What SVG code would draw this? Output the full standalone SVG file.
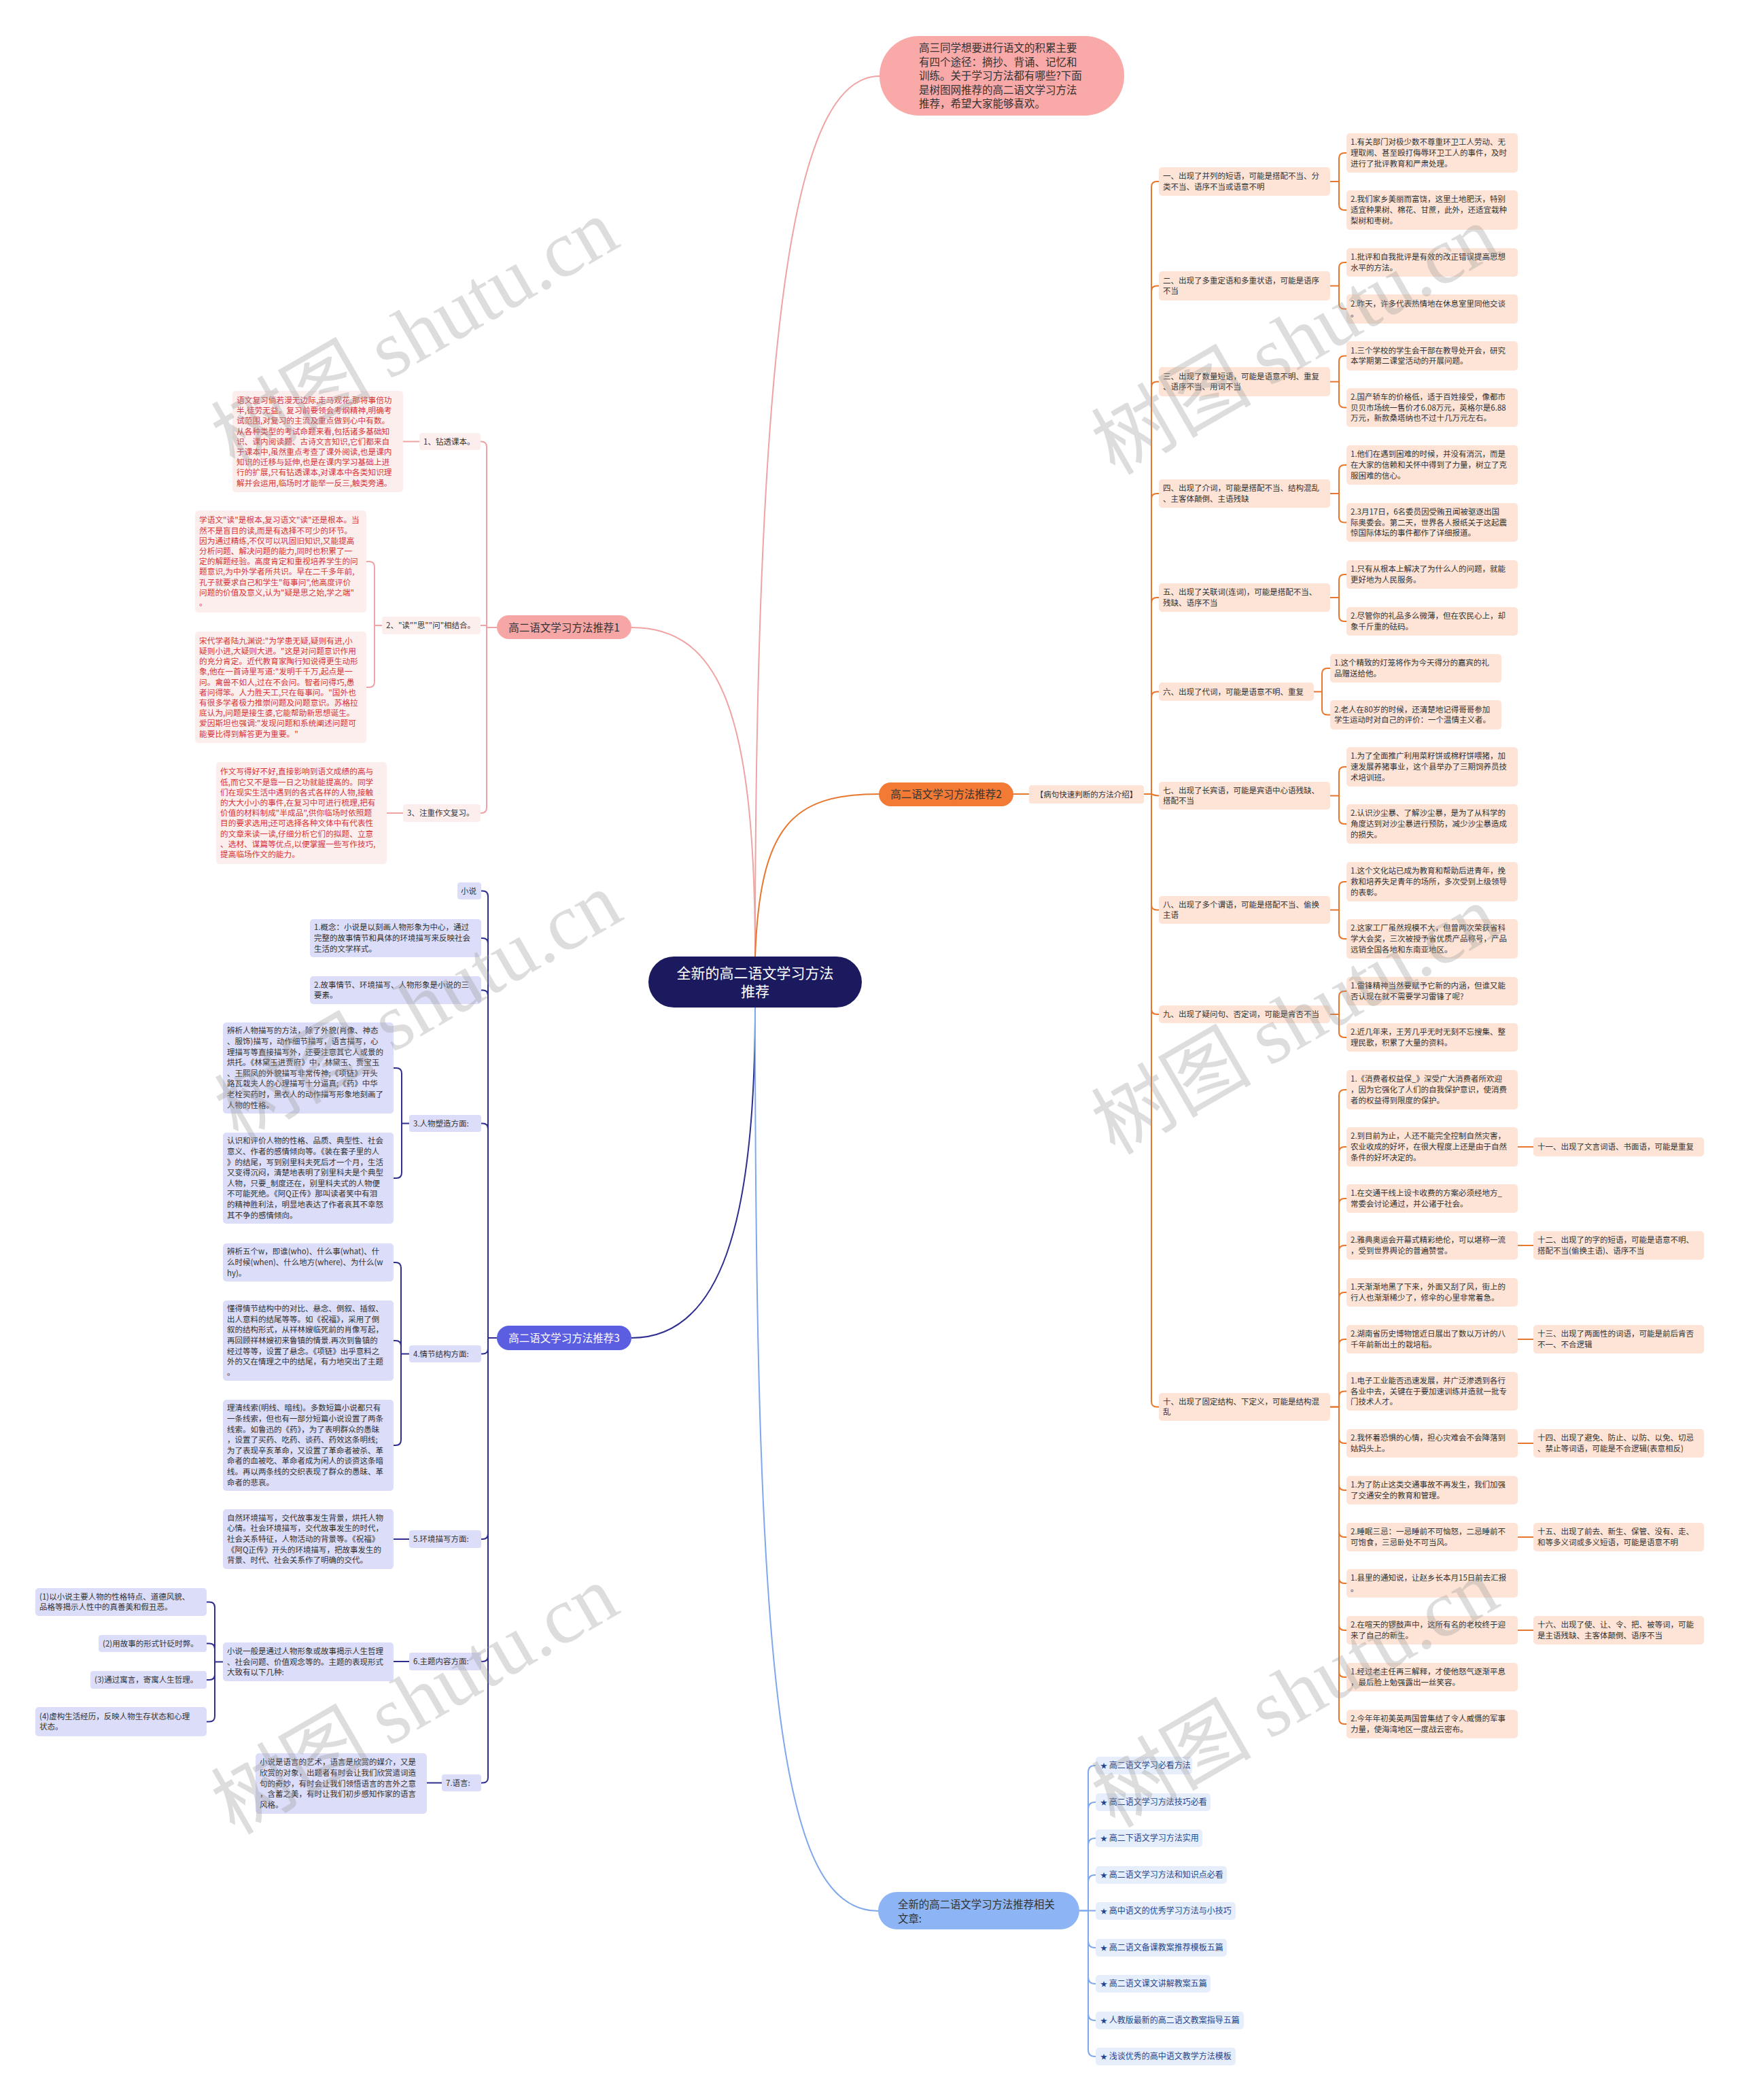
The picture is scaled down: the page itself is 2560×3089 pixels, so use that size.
<svg xmlns="http://www.w3.org/2000/svg" width="2560" height="3089" viewBox="0 0 2560 3089">
<style>
.t{font-family:"Noto Sans CJK SC","Noto Sans",sans-serif;font-size:11.5px;fill:#333}
.r{font-size:11.7px;fill:#D7353A}
.pk{fill:#FDE4D6}
.lf1{fill:#FDEEEE}
.b3{fill:#DCDDF8}
.b4{fill:#E7EEFB}
.st{font-family:"Noto Sans CJK SC","DejaVu Sans",sans-serif;font-size:12px;fill:#25458E}
.c1{fill:none;stroke:#F0A3A3;stroke-width:2}
.c2{fill:none;stroke:#E8762C;stroke-width:2}
.c3{fill:none;stroke:#2F2E8E;stroke-width:2}
.c4{fill:none;stroke:#7FA8EC;stroke-width:2}
.wm{font-size:118px;fill:#999;opacity:0.33}
</style>
<rect x="0" y="0" width="2560" height="3089" fill="#fff"/>
<g id="connectors">
<path class="c1" d="M1111,1407 C1111,400 1180,112 1294,112"/>
<path class="c1" d="M929,923 C1060,923 1111,1050 1111,1407"/>
<path class="c2" d="M1111,1407 C1118,1215 1165,1168 1293,1168"/>
<path class="c3" d="M1111,1482 C1111,1800 1060,1968 929,1968"/>
<path class="c4" d="M1111,1482 C1111,2500 1150,2811 1292,2811"/>
<path class="c2" d="M1491,1168 H1514"/>
<path class="c2" d="M1683,1168 H1694 V275 Q1694,267 1702,267 H1705"/>
<path class="c2" d="M1683,1168 H1694 V428.5 Q1694,420.5 1702,420.5 H1705"/>
<path class="c2" d="M1683,1168 H1694 V569.5 Q1694,561.5 1702,561.5 H1705"/>
<path class="c2" d="M1683,1168 H1694 V734 Q1694,726 1702,726 H1705"/>
<path class="c2" d="M1683,1168 H1694 V887 Q1694,879 1702,879 H1705"/>
<path class="c2" d="M1683,1168 H1694 V1025.5 Q1694,1017.5 1702,1017.5 H1705"/>
<path class="c2" d="M1683,1168 H1694 Q1699,1170.5 1705,1170.5"/>
<path class="c2" d="M1683,1168 H1694 V1330.5 Q1694,1338.5 1702,1338.5 H1705"/>
<path class="c2" d="M1683,1168 H1694 V1484 Q1694,1492 1702,1492 H1705"/>
<path class="c2" d="M1683,1168 H1694 V2061.5 Q1694,2069.5 1702,2069.5 H1705"/>
<path class="c2" d="M1957,267 H1970 V233 Q1970,225 1978,225 H1981 M1957,267 H1970 V301 Q1970,309 1978,309 H1981"/>
<path class="c2" d="M1957,420.5 H1970 V394 Q1970,386 1978,386 H1981 M1957,420.5 H1970 V446.5 Q1970,454.5 1978,454.5 H1981"/>
<path class="c2" d="M1957,561.5 H1970 V531.5 Q1970,523.5 1978,523.5 H1981 M1957,561.5 H1970 V591.5 Q1970,599.5 1978,599.5 H1981"/>
<path class="c2" d="M1957,726 H1970 V692 Q1970,684 1978,684 H1981 M1957,726 H1970 V760.5 Q1970,768.5 1978,768.5 H1981"/>
<path class="c2" d="M1957,879 H1970 V853 Q1970,845 1978,845 H1981 M1957,879 H1970 V906 Q1970,914 1978,914 H1981"/>
<path class="c2" d="M1933,1017.5 H1945 V991 Q1945,983 1953,983 H1957 M1933,1017.5 H1945 V1043.5 Q1945,1051.5 1953,1051.5 H1957"/>
<path class="c2" d="M1957,1170.5 H1970 V1136 Q1970,1128 1978,1128 H1981 M1957,1170.5 H1970 V1204 Q1970,1212 1978,1212 H1981"/>
<path class="c2" d="M1957,1338.5 H1970 V1305 Q1970,1297 1978,1297 H1981 M1957,1338.5 H1970 V1373 Q1970,1381 1978,1381 H1981"/>
<path class="c2" d="M1957,1492 H1970 V1466 Q1970,1458 1978,1458 H1981 M1957,1492 H1970 V1518 Q1970,1526 1978,1526 H1981"/>
<path class="c2" d="M1957,2069.5 H1970 V1611 Q1970,1603 1978,1603 H1981 M1957,2069.5 H1970 V1695 Q1970,1687 1978,1687 H1981 M1957,2069.5 H1970 V1771 Q1970,1763 1978,1763 H1981 M1957,2069.5 H1970 V1840 Q1970,1832 1978,1832 H1981 M1957,2069.5 H1970 V1909 Q1970,1901 1978,1901 H1981 M1957,2069.5 H1970 V1978 Q1970,1970 1978,1970 H1981 M1957,2069.5 H1970 V2054.5 Q1970,2046.5 1978,2046.5 H1981"/>
<path class="c2" d="M1957,2069.5 H1970 V2115 Q1970,2123 1978,2123 H1981 M1957,2069.5 H1970 V2184 Q1970,2192 1978,2192 H1981 M1957,2069.5 H1970 V2253 Q1970,2261 1978,2261 H1981 M1957,2069.5 H1970 V2321 Q1970,2329 1978,2329 H1981 M1957,2069.5 H1970 V2390 Q1970,2398 1978,2398 H1981 M1957,2069.5 H1970 V2459 Q1970,2467 1978,2467 H1981 M1957,2069.5 H1970 V2528 Q1970,2536 1978,2536 H1981"/>
<path class="c2" d="M2233,1687 H2256 M2233,1832 H2256 M2233,1970 H2256 M2233,2123 H2256 M2233,2261 H2256 M2233,2398 H2256"/>
<path class="c1" d="M731,923 H716 V657.5 Q716,649.5 708,649.5 H707"/>
<path class="c1" d="M731,923 H716 V920 H707"/>
<path class="c1" d="M731,923 H716 V1188 Q716,1196 708,1196 H707"/>
<path class="c1" d="M617,649.5 H593"/>
<path class="c1" d="M562,920 H551 V834 Q551,826 543,826 H539 M562,920 H551 V1003 Q551,1011 543,1011 H539"/>
<path class="c1" d="M593,1196 H569"/>
<path class="c3" d="M731,1968 H718 V1318.5 Q718,1310.5 710,1310.5 H708"/>
<path class="c3" d="M731,1968 H718 V1388 Q718,1380 710,1380 H708"/>
<path class="c3" d="M731,1968 H718 V1464.5 Q718,1456.5 710,1456.5 H708"/>
<path class="c3" d="M731,1968 H718 V1660.5 Q718,1652.5 710,1652.5 H708"/>
<path class="c3" d="M731,1968 H718 V1983.5 Q718,1991.5 710,1991.5 H708"/>
<path class="c3" d="M731,1968 H718 V2256 Q718,2264 710,2264 H708"/>
<path class="c3" d="M731,1968 H718 V2436 Q718,2444 710,2444 H708"/>
<path class="c3" d="M731,1968 H718 V2614.5 Q718,2622.5 710,2622.5 H708"/>
<path class="c3" d="M602,1652.5 H591 V1579 Q591,1571 583,1571 H579 M602,1652.5 H591 V1725 Q591,1733 583,1733 H579"/>
<path class="c3" d="M602,1991.5 H590 V1865 Q590,1857 582,1857 H579 M602,1991.5 H590 V1980 Q590,1972 582,1972 H579 M602,1991.5 H590 V2118 Q590,2126 582,2126 H579"/>
<path class="c3" d="M602,2264 H579 M602,2444 H579 M650,2622.5 H628"/>
<path class="c3" d="M328,2444.5 H316 V2364.5 Q316,2356.5 308,2356.5 H304 M328,2444.5 H316 V2425.5 Q316,2417.5 308,2417.5 H304 M328,2444.5 H316 V2463 Q316,2471 308,2471 H304 M328,2444.5 H316 V2524.5 Q316,2532.5 308,2532.5 H304"/>
<path class="c4" d="M1588,2810.5 H1601 V2607 Q1601,2597 1611,2597 H1612 M1588,2810.5 H1601 V2661 Q1601,2651 1611,2651 H1612 M1588,2810.5 H1601 V2714 Q1601,2704 1611,2704 H1612 M1588,2810.5 H1601 V2768 Q1601,2758 1611,2758 H1612 M1588,2810.5 H1612"/>
<path class="c4" d="M1588,2810.5 H1601 V2855 Q1601,2865 1611,2865 H1612 M1588,2810.5 H1601 V2908 Q1601,2918 1611,2918 H1612 M1588,2810.5 H1601 V2962 Q1601,2972 1611,2972 H1612 M1588,2810.5 H1601 V3015 Q1601,3025 1611,3025 H1612"/>
</g>

<g id="root"><rect x="954" y="1407" width="314" height="75" rx="37.5" fill="#1B1A5E"/><text class="t" x="1111" y="1438.5" text-anchor="middle" style="font-size:21px;fill:#fff"><tspan x="1111">全新的高二语文学习方法</tspan><tspan x="1111" dy="27">推荐</tspan></text></g>

<g id="intro"><rect x="1294" y="53" width="360" height="117" rx="58" fill="#F9A9A8"/><text class="t" x="1352" y="76" style="font-size:15.5px"><tspan x="1352">高三同学想要进行语文的积累主要</tspan><tspan x="1352" dy="20.5">有四个途径：摘抄、背诵、记忆和</tspan><tspan x="1352" dy="20.5">训练。关于学习方法都有哪些?下面</tspan><tspan x="1352" dy="20.5">是树图网推荐的高二语文学习方法</tspan><tspan x="1352" dy="20.5">推荐，希望大家能够喜欢。</tspan></text></g>

<g id="b1"><rect x="731" y="905" width="198" height="35" rx="17.5" fill="#F7A6A6"/><text class="t" x="830" y="928.5" text-anchor="middle" style="font-size:15.5px">高二语文学习方法推荐1</text></g>
<g id="b1-s1"><rect class="lf1" x="617" y="637" width="90" height="25" rx="4"/><text class="t" x="623" y="653.5">1、钻透课本。</text></g>
<g id="b1-s2"><rect class="lf1" x="562" y="907" width="145" height="26" rx="4"/><text class="t" x="568" y="924">2、"读""思""问"相结合。</text></g>
<g id="b1-s3"><rect class="lf1" x="593" y="1183" width="114" height="26" rx="4"/><text class="t" x="599" y="1200">3、注重作文复习。</text></g>
<g id="b1-la"><rect class="lf1" x="342" y="575" width="251" height="149" rx="5"/><text class="t r" x="348" y="592.9"><tspan x="348">语文复习倘若漫无边际,走马观花,那将事倍功</tspan><tspan x="348" dy="15.2">半,徒劳无益。复习前要领会考纲精神,明确考</tspan><tspan x="348" dy="15.2">试范围,对复习的主流及重点做到心中有数。</tspan><tspan x="348" dy="15.2">从各种类型的考试命题来看,包括诸多基础知</tspan><tspan x="348" dy="15.2">识、课内阅读题、古诗文言知识,它们都来自</tspan><tspan x="348" dy="15.2">于课本中,虽然重点考查了课外阅读,也是课内</tspan><tspan x="348" dy="15.2">知识的迁移与延伸,也是在课内学习基础上进</tspan><tspan x="348" dy="15.2">行的扩展,只有钻透课本,对课本中各类知识理</tspan><tspan x="348" dy="15.2">解并会运用,临场时才能举一反三,触类旁通。</tspan></text></g>
<g id="b1-lb"><rect class="lf1" x="287" y="751" width="252" height="150" rx="5"/><text class="t r" x="293" y="769.4"><tspan x="293">学语文"读"是根本,复习语文"读"还是根本。当</tspan><tspan x="293" dy="15.2">然不是盲目的读,而是有选择不可少的环节。</tspan><tspan x="293" dy="15.2">因为通过精练,不仅可以巩固旧知识,又能提高</tspan><tspan x="293" dy="15.2">分析问题、解决问题的能力,同时也积累了一</tspan><tspan x="293" dy="15.2">定的解题经验。高度肯定和重视培养学生的问</tspan><tspan x="293" dy="15.2">题意识,为中外学者所共识。早在二千多年前,</tspan><tspan x="293" dy="15.2">孔子就要求自己和学生"每事问",他高度评价</tspan><tspan x="293" dy="15.2">问题的价值及意义,认为"疑是思之始,学之端"</tspan><tspan x="293" dy="15.2">。</tspan></text></g>
<g id="b1-lc"><rect class="lf1" x="287" y="929" width="252" height="164" rx="5"/><text class="t r" x="293" y="946.8"><tspan x="293">宋代学者陆九渊说:"为学患无疑,疑则有进,小</tspan><tspan x="293" dy="15.2">疑则小进,大疑则大进。"这是对问题意识作用</tspan><tspan x="293" dy="15.2">的充分肯定。近代教育家陶行知说得更生动形</tspan><tspan x="293" dy="15.2">象,他在一首诗里写道:"发明千千万,起点是一</tspan><tspan x="293" dy="15.2">问。禽兽不如人,过在不会问。智者问得巧,愚</tspan><tspan x="293" dy="15.2">者问得笨。人力胜天工,只在每事问。"国外也</tspan><tspan x="293" dy="15.2">有很多学者极力推崇问题及问题意识。苏格拉</tspan><tspan x="293" dy="15.2">底认为,问题是接生婆,它能帮助新思想诞生。</tspan><tspan x="293" dy="15.2">爱因斯坦也强调:"发现问题和系统阐述问题可</tspan><tspan x="293" dy="15.2">能要比得到解答更为重要。"</tspan></text></g>
<g id="b1-ld"><rect class="lf1" x="318" y="1121" width="251" height="150" rx="5"/><text class="t r" x="324" y="1139.4"><tspan x="324">作文写得好不好,直接影响到语文成绩的高与</tspan><tspan x="324" dy="15.2">低,而它又不是靠一日之功就能提高的。同学</tspan><tspan x="324" dy="15.2">们在现实生活中遇到的各式各样的人物,接触</tspan><tspan x="324" dy="15.2">的大大小小的事件,在复习中可进行梳理,把有</tspan><tspan x="324" dy="15.2">价值的材料制成"半成品",供你临场时依照题</tspan><tspan x="324" dy="15.2">目的要求选用;还可选择各种文体中有代表性</tspan><tspan x="324" dy="15.2">的文章来读一读,仔细分析它们的拟题、立意</tspan><tspan x="324" dy="15.2">、选材、谋篇等优点,以便掌握一些写作技巧,</tspan><tspan x="324" dy="15.2">提高临场作文的能力。</tspan></text></g>

<g id="b2"><rect x="1293" y="1151" width="198" height="35" rx="17.5" fill="#F27A35"/><text class="t" x="1392" y="1174" text-anchor="middle" style="font-size:15.5px">高二语文学习方法推荐2</text></g>
<g id="b2-intro"><rect class="pk" x="1514" y="1155" width="169" height="27" rx="4"/><text class="t" x="1598.5" y="1172.5" text-anchor="middle">【病句快速判断的方法介绍】</text></g>

<g id="r1"><rect class="pk" x="1705" y="246" width="252" height="42" rx="5"/><text class="t" x="1711" y="263.2"><tspan x="1711">一、出现了并列的短语，可能是搭配不当、分</tspan><tspan x="1711" dy="15.6">类不当、语序不当或语意不明</tspan></text></g>
<g id="r2"><rect class="pk" x="1705" y="399" width="252" height="43" rx="5"/><text class="t" x="1711" y="416.7"><tspan x="1711">二、出现了多重定语和多重状语，可能是语序</tspan><tspan x="1711" dy="15.6">不当</tspan></text></g>
<g id="r3"><rect class="pk" x="1705" y="540" width="252" height="43" rx="5"/><text class="t" x="1711" y="557.7"><tspan x="1711">三、出现了数量短语，可能是语意不明、重复</tspan><tspan x="1711" dy="15.6">、语序不当、用词不当</tspan></text></g>
<g id="r4"><rect class="pk" x="1705" y="705" width="252" height="42" rx="5"/><text class="t" x="1711" y="722.2"><tspan x="1711">四、出现了介词，可能是搭配不当、结构混乱</tspan><tspan x="1711" dy="15.6">、主客体颠倒、主语残缺</tspan></text></g>
<g id="r5"><rect class="pk" x="1705" y="858" width="252" height="42" rx="5"/><text class="t" x="1711" y="875.2"><tspan x="1711">五、出现了关联词(连词)，可能是搭配不当、</tspan><tspan x="1711" dy="15.6">残缺、语序不当</tspan></text></g>
<g id="r6"><rect class="pk" x="1705" y="1004" width="228" height="27" rx="5"/><text class="t" x="1711" y="1021.5">六、出现了代词，可能是语意不明、重复</text></g>
<g id="r7"><rect class="pk" x="1705" y="1150" width="252" height="41" rx="5"/><text class="t" x="1711" y="1166.7"><tspan x="1711">七、出现了长宾语，可能是宾语中心语残缺、</tspan><tspan x="1711" dy="15.6">搭配不当</tspan></text></g>
<g id="r8"><rect class="pk" x="1705" y="1318" width="252" height="41" rx="5"/><text class="t" x="1711" y="1334.7"><tspan x="1711">八、出现了多个谓语，可能是搭配不当、偷换</tspan><tspan x="1711" dy="15.6">主语</tspan></text></g>
<g id="r9"><rect class="pk" x="1705" y="1479" width="252" height="26" rx="5"/><text class="t" x="1711" y="1496">九、出现了疑问句、否定词，可能是肯否不当</text></g>
<g id="r10"><rect class="pk" x="1705" y="2049" width="252" height="41" rx="5"/><text class="t" x="1711" y="2065.7"><tspan x="1711">十、出现了固定结构、下定义，可能是结构混</tspan><tspan x="1711" dy="15.6">乱</tspan></text></g>

<g id="r1a"><rect class="pk" x="1981" y="196" width="252" height="58" rx="5"/><text class="t" x="1987" y="213.4"><tspan x="1987">1.有关部门对极少数不尊重环卫工人劳动、无</tspan><tspan x="1987" dy="15.6">理取闹、甚至殴打侮辱环卫工人的事件，及时</tspan><tspan x="1987" dy="15.6">进行了批评教育和严肃处理。</tspan></text></g>
<g id="r1b"><rect class="pk" x="1981" y="280" width="252" height="58" rx="5"/><text class="t" x="1987" y="297.4"><tspan x="1987">2.我们家乡美丽而富饶，这里土地肥沃，特别</tspan><tspan x="1987" dy="15.6">适宜种果树、棉花、甘蔗，此外，还适宜栽种</tspan><tspan x="1987" dy="15.6">梨树和枣树。</tspan></text></g>
<g id="r2a"><rect class="pk" x="1981" y="365" width="252" height="42" rx="5"/><text class="t" x="1987" y="382.2"><tspan x="1987">1.批评和自我批评是有效的改正错误提高思想</tspan><tspan x="1987" dy="15.6">水平的方法。</tspan></text></g>
<g id="r2b"><rect class="pk" x="1981" y="433" width="252" height="43" rx="5"/><text class="t" x="1987" y="450.7"><tspan x="1987">2.昨天，许多代表热情地在休息室里同他交谈</tspan><tspan x="1987" dy="15.6">。</tspan></text></g>
<g id="r3a"><rect class="pk" x="1981" y="502" width="252" height="43" rx="5"/><text class="t" x="1987" y="519.7"><tspan x="1987">1.三个学校的学生会干部在教导处开会，研究</tspan><tspan x="1987" dy="15.6">本学期第二课堂活动的开展问题。</tspan></text></g>
<g id="r3b"><rect class="pk" x="1981" y="571" width="252" height="57" rx="5"/><text class="t" x="1987" y="587.9"><tspan x="1987">2.国产轿车的价格低，适于百姓接受，像都市</tspan><tspan x="1987" dy="15.6">贝贝市场统一售价才6.08万元，英格尔是6.88</tspan><tspan x="1987" dy="15.6">万元，新款桑塔纳也不过十几万元左右。</tspan></text></g>
<g id="r4a"><rect class="pk" x="1981" y="655" width="252" height="58" rx="5"/><text class="t" x="1987" y="672.4"><tspan x="1987">1.他们在遇到困难的时候，并没有消沉，而是</tspan><tspan x="1987" dy="15.6">在大家的信赖和关怀中得到了力量，树立了克</tspan><tspan x="1987" dy="15.6">服困难的信心。</tspan></text></g>
<g id="r4b"><rect class="pk" x="1981" y="740" width="252" height="57" rx="5"/><text class="t" x="1987" y="756.9"><tspan x="1987">2.3月17日，6名委员因受贿丑闻被驱逐出国</tspan><tspan x="1987" dy="15.6">际奥委会。第二天，世界各人报纸关于这起震</tspan><tspan x="1987" dy="15.6">惊国际体坛的事件都作了详细报道。</tspan></text></g>
<g id="r5a"><rect class="pk" x="1981" y="824" width="252" height="42" rx="5"/><text class="t" x="1987" y="841.2"><tspan x="1987">1.只有从根本上解决了为什么人的问题，就能</tspan><tspan x="1987" dy="15.6">更好地为人民服务。</tspan></text></g>
<g id="r5b"><rect class="pk" x="1981" y="893" width="252" height="42" rx="5"/><text class="t" x="1987" y="910.2"><tspan x="1987">2.尽管你的礼品多么微薄，但在农民心上，却</tspan><tspan x="1987" dy="15.6">象千斤重的砝码。</tspan></text></g>
<g id="r6a"><rect class="pk" x="1957" y="962" width="252" height="42" rx="5"/><text class="t" x="1963" y="979.2"><tspan x="1963">1.这个精致的灯笼将作为今天得分的嘉宾的礼</tspan><tspan x="1963" dy="15.6">品赠送给他。</tspan></text></g>
<g id="r6b"><rect class="pk" x="1957" y="1030" width="252" height="43" rx="5"/><text class="t" x="1963" y="1047.7"><tspan x="1963">2.老人在80岁的时候，还清楚地记得哥哥参加</tspan><tspan x="1963" dy="15.6">学生运动时对自己的评价：一个温情主义者。</tspan></text></g>
<g id="r7a"><rect class="pk" x="1981" y="1099" width="252" height="58" rx="5"/><text class="t" x="1987" y="1116.4"><tspan x="1987">1.为了全面推广利用菜籽饼或棉籽饼喂猪，加</tspan><tspan x="1987" dy="15.6">速发展养猪事业，这个县举办了三期饲养员技</tspan><tspan x="1987" dy="15.6">术培训班。</tspan></text></g>
<g id="r7b"><rect class="pk" x="1981" y="1183" width="252" height="58" rx="5"/><text class="t" x="1987" y="1200.4"><tspan x="1987">2.认识沙尘暴、了解沙尘暴，是为了从科学的</tspan><tspan x="1987" dy="15.6">角度达到对沙尘暴进行预防，减少沙尘暴造成</tspan><tspan x="1987" dy="15.6">的损失。</tspan></text></g>
<g id="r8a"><rect class="pk" x="1981" y="1268" width="252" height="58" rx="5"/><text class="t" x="1987" y="1285.4"><tspan x="1987">1.这个文化站已成为教育和帮助后进青年，挽</tspan><tspan x="1987" dy="15.6">救和培养失足青年的场所，多次受到上级领导</tspan><tspan x="1987" dy="15.6">的表彰。</tspan></text></g>
<g id="r8b"><rect class="pk" x="1981" y="1352" width="252" height="58" rx="5"/><text class="t" x="1987" y="1369.4"><tspan x="1987">2.这家工厂虽然规模不大，但曾两次荣获省科</tspan><tspan x="1987" dy="15.6">学大会奖，三次被授予省优质产品称号，产品</tspan><tspan x="1987" dy="15.6">远销全国各地和东南亚地区。</tspan></text></g>
<g id="r9a"><rect class="pk" x="1981" y="1437" width="252" height="42" rx="5"/><text class="t" x="1987" y="1454.2"><tspan x="1987">1.雷锋精神当然要赋予它新的内涵，但谁又能</tspan><tspan x="1987" dy="15.6">否认现在就不需要学习雷锋了呢?</tspan></text></g>
<g id="r9b"><rect class="pk" x="1981" y="1505" width="252" height="42" rx="5"/><text class="t" x="1987" y="1522.2"><tspan x="1987">2.近几年来，王芳几乎无时无刻不忘搜集、整</tspan><tspan x="1987" dy="15.6">理民歌，积累了大量的资料。</tspan></text></g>

<g id="r10a"><rect class="pk" x="1981" y="1574" width="252" height="58" rx="5"/><text class="t" x="1987" y="1591.4"><tspan x="1987">1.《消费者权益保_》深受广大消费者所欢迎</tspan><tspan x="1987" dy="15.6">，因为它强化了人们的自我保护意识，使消费</tspan><tspan x="1987" dy="15.6">者的权益得到限度的保护。</tspan></text></g>
<g id="r10b"><rect class="pk" x="1981" y="1658" width="252" height="58" rx="5"/><text class="t" x="1987" y="1675.4"><tspan x="1987">2.到目前为止，人还不能完全控制自然灾害，</tspan><tspan x="1987" dy="15.6">农业收成的好坏，在很大程度上还是由于自然</tspan><tspan x="1987" dy="15.6">条件的好坏决定的。</tspan></text></g>
<g id="r10c"><rect class="pk" x="1981" y="1742" width="252" height="42" rx="5"/><text class="t" x="1987" y="1759.2"><tspan x="1987">1.在交通干线上设卡收费的方案必须经地方_</tspan><tspan x="1987" dy="15.6">常委会讨论通过，并公诸于社会。</tspan></text></g>
<g id="r10d"><rect class="pk" x="1981" y="1811" width="252" height="42" rx="5"/><text class="t" x="1987" y="1828.2"><tspan x="1987">2.雅典奥运会开幕式精彩绝伦，可以堪称一流</tspan><tspan x="1987" dy="15.6">，受到世界舆论的普遍赞誉。</tspan></text></g>
<g id="r10e"><rect class="pk" x="1981" y="1880" width="252" height="42" rx="5"/><text class="t" x="1987" y="1897.2"><tspan x="1987">1.天渐渐地黑了下来，外面又刮了风，街上的</tspan><tspan x="1987" dy="15.6">行人也渐渐稀少了，修伞的心里非常着急。</tspan></text></g>
<g id="r10f"><rect class="pk" x="1981" y="1949" width="252" height="42" rx="5"/><text class="t" x="1987" y="1966.2"><tspan x="1987">2.湖南省历史博物馆近日展出了数以万计的八</tspan><tspan x="1987" dy="15.6">千年前新出土的栽培稻。</tspan></text></g>
<g id="r10g"><rect class="pk" x="1981" y="2018" width="252" height="57" rx="5"/><text class="t" x="1987" y="2034.9"><tspan x="1987">1.电子工业能否迅速发展，并广泛渗透到各行</tspan><tspan x="1987" dy="15.6">各业中去，关键在于要加速训练并造就一批专</tspan><tspan x="1987" dy="15.6">门技术人才。</tspan></text></g>
<g id="r10h"><rect class="pk" x="1981" y="2102" width="252" height="42" rx="5"/><text class="t" x="1987" y="2119.2"><tspan x="1987">2.我怀着恐惧的心情，担心灾难会不会降落到</tspan><tspan x="1987" dy="15.6">姑妈头上。</tspan></text></g>
<g id="r10i"><rect class="pk" x="1981" y="2171" width="252" height="42" rx="5"/><text class="t" x="1987" y="2188.2"><tspan x="1987">1.为了防止这类交通事故不再发生，我们加强</tspan><tspan x="1987" dy="15.6">了交通安全的教育和管理。</tspan></text></g>
<g id="r10j"><rect class="pk" x="1981" y="2240" width="252" height="42" rx="5"/><text class="t" x="1987" y="2257.2"><tspan x="1987">2.睡眠三忌：一忌睡前不可恼怒，二忌睡前不</tspan><tspan x="1987" dy="15.6">可饱食，三忌卧处不可当风。</tspan></text></g>
<g id="r10k"><rect class="pk" x="1981" y="2308" width="252" height="42" rx="5"/><text class="t" x="1987" y="2325.2"><tspan x="1987">1.县里的通知说，让赵乡长本月15日前去汇报</tspan><tspan x="1987" dy="15.6">。</tspan></text></g>
<g id="r10l"><rect class="pk" x="1981" y="2377" width="252" height="42" rx="5"/><text class="t" x="1987" y="2394.2"><tspan x="1987">2.在喧天的锣鼓声中，这所有名的老校终于迎</tspan><tspan x="1987" dy="15.6">来了自己的新生。</tspan></text></g>
<g id="r10m"><rect class="pk" x="1981" y="2446" width="252" height="42" rx="5"/><text class="t" x="1987" y="2463.2"><tspan x="1987">1.经过老主任再三解释，才使他怒气逐渐平息</tspan><tspan x="1987" dy="15.6">，最后脸上勉强露出一丝笑容。</tspan></text></g>
<g id="r10n"><rect class="pk" x="1981" y="2515" width="252" height="42" rx="5"/><text class="t" x="1987" y="2532.2"><tspan x="1987">2.今年年初美英两国曾集结了令人威慑的军事</tspan><tspan x="1987" dy="15.6">力量，使海湾地区一度战云密布。</tspan></text></g>

<g id="r11"><rect class="pk" x="2256" y="1673" width="251" height="28" rx="5"/><text class="t" x="2262" y="1691">十一、出现了文言词语、书面语，可能是重复</text></g>
<g id="r12"><rect class="pk" x="2256" y="1811" width="251" height="42" rx="5"/><text class="t" x="2262" y="1828.2"><tspan x="2262">十二、出现了的字的短语，可能是语意不明、</tspan><tspan x="2262" dy="15.6">搭配不当(偷换主语)、语序不当</tspan></text></g>
<g id="r13"><rect class="pk" x="2256" y="1949" width="251" height="42" rx="5"/><text class="t" x="2262" y="1966.2"><tspan x="2262">十三、出现了两面性的词语，可能是前后肯否</tspan><tspan x="2262" dy="15.6">不一、不合逻辑</tspan></text></g>
<g id="r14"><rect class="pk" x="2256" y="2102" width="251" height="42" rx="5"/><text class="t" x="2262" y="2119.2"><tspan x="2262">十四、出现了避免、防止、以防、以免、切忌</tspan><tspan x="2262" dy="15.6">、禁止等词语，可能是不合逻辑(表意相反)</tspan></text></g>
<g id="r15"><rect class="pk" x="2256" y="2240" width="251" height="42" rx="5"/><text class="t" x="2262" y="2257.2"><tspan x="2262">十五、出现了前去、新生、保管、没有、走、</tspan><tspan x="2262" dy="15.6">和等多义词或多义短语，可能是语意不明</tspan></text></g>
<g id="r16"><rect class="pk" x="2256" y="2377" width="251" height="42" rx="5"/><text class="t" x="2262" y="2394.2"><tspan x="2262">十六、出现了使、让、令、把、被等词，可能</tspan><tspan x="2262" dy="15.6">是主语残缺、主客体颠倒、语序不当</tspan></text></g>

<g id="b3"><rect x="731" y="1950" width="198" height="36" rx="18" fill="#5B5EE0"/><text class="t" x="830" y="1973.5" text-anchor="middle" style="font-size:15.5px;fill:#fff">高二语文学习方法推荐3</text></g>
<g id="b3-n0"><rect class="b3" x="673" y="1298" width="35" height="25" rx="4"/><text class="t" x="678" y="1314.5">小说</text></g>
<g id="b3-n1"><rect class="b3" x="456" y="1352" width="252" height="56" rx="5"/><text class="t" x="462" y="1368.4"><tspan x="462">1.概念：小说是以刻画人物形象为中心，通过</tspan><tspan x="462" dy="15.6">完整的故事情节和具体的环境描写来反映社会</tspan><tspan x="462" dy="15.6">生活的文学样式。</tspan></text></g>
<g id="b3-n2"><rect class="b3" x="456" y="1436" width="252" height="41" rx="5"/><text class="t" x="462" y="1452.7"><tspan x="462">2.故事情节、环境描写、人物形象是小说的三</tspan><tspan x="462" dy="15.6">要素。</tspan></text></g>
<g id="b3-n3"><rect class="b3" x="602" y="1640" width="106" height="25" rx="4"/><text class="t" x="608" y="1656.5">3.人物塑造方面:</text></g>
<g id="b3-n3a"><rect class="b3" x="328" y="1504" width="251" height="134" rx="5"/><text class="t" x="334" y="1520.4"><tspan x="334">辨析人物描写的方法，除了外貌(肖像、神态</tspan><tspan x="334" dy="15.6">、服饰)描写，动作细节描写，语言描写，心</tspan><tspan x="334" dy="15.6">理描写等直接描写外，还要注意其它人或景的</tspan><tspan x="334" dy="15.6">烘托。《林黛玉进贾府》中，林黛玉、贾宝玉</tspan><tspan x="334" dy="15.6">、王熙凤的外貌描写非常传神;《项链》开头</tspan><tspan x="334" dy="15.6">路瓦栽夫人的心理描写十分逼真;《药》中华</tspan><tspan x="334" dy="15.6">老栓买药时，黑衣人的动作描写形象地刻画了</tspan><tspan x="334" dy="15.6">人物的性格。</tspan></text></g>
<g id="b3-n3b"><rect class="b3" x="328" y="1666" width="251" height="134" rx="5"/><text class="t" x="334" y="1682.4"><tspan x="334">认识和评价人物的性格、品质、典型性、社会</tspan><tspan x="334" dy="15.6">意义、作者的感情倾向等。《装在套子里的人</tspan><tspan x="334" dy="15.6">》的结尾，写到别里科夫死后才一个月，生活</tspan><tspan x="334" dy="15.6">又变得沉闷，清楚地表明了别里科夫是个典型</tspan><tspan x="334" dy="15.6">人物，只要_制度还在，别里科夫式的人物便</tspan><tspan x="334" dy="15.6">不可能死绝。《阿Q正传》那叫读者笑中有泪</tspan><tspan x="334" dy="15.6">的精神胜利法，明显地表达了作者哀其不幸怒</tspan><tspan x="334" dy="15.6">其不争的感情倾向。</tspan></text></g>
<g id="b3-n4"><rect class="b3" x="602" y="1979" width="106" height="25" rx="4"/><text class="t" x="608" y="1995.5">4.情节结构方面:</text></g>
<g id="b3-n4a"><rect class="b3" x="328" y="1829" width="251" height="56" rx="5"/><text class="t" x="334" y="1845.4"><tspan x="334">辨析五个w，即谁(who)、什么事(what)、什</tspan><tspan x="334" dy="15.6">么时候(when)、什么地方(where)、为什么(w</tspan><tspan x="334" dy="15.6">hy)。</tspan></text></g>
<g id="b3-n4b"><rect class="b3" x="328" y="1913" width="251" height="118" rx="5"/><text class="t" x="334" y="1929.2"><tspan x="334">懂得情节结构中的对比、悬念、倒叙、插叙、</tspan><tspan x="334" dy="15.6">出人意料的结尾等等。如《祝福》，采用了倒</tspan><tspan x="334" dy="15.6">叙的结构形式，从祥林嫂临死前的肖像写起，</tspan><tspan x="334" dy="15.6">再回顾祥林嫂初来鲁镇的情景.再次到鲁镇的</tspan><tspan x="334" dy="15.6">经过等等，设置了悬念。《项链》出乎意料之</tspan><tspan x="334" dy="15.6">外的又在情理之中的结尾，有力地突出了主题</tspan><tspan x="334" dy="15.6">。</tspan></text></g>
<g id="b3-n4c"><rect class="b3" x="328" y="2059" width="251" height="134" rx="5"/><text class="t" x="334" y="2075.4"><tspan x="334">理清线索(明线、暗线)。多数短篇小说都只有</tspan><tspan x="334" dy="15.6">一条线索，但也有一部分短篇小说设置了两条</tspan><tspan x="334" dy="15.6">线索。如鲁迅的《药》，为了表明群众的愚昧</tspan><tspan x="334" dy="15.6">，设置了买药、吃药、谈药、药效这条明线;</tspan><tspan x="334" dy="15.6">为了表现辛亥革命，又设置了革命者被杀、革</tspan><tspan x="334" dy="15.6">命者的血被吃、革命者成为闲人的谈资这条暗</tspan><tspan x="334" dy="15.6">线。再以两条线的交织表现了群众的愚昧、革</tspan><tspan x="334" dy="15.6">命者的悲哀。</tspan></text></g>
<g id="b3-n5"><rect class="b3" x="602" y="2251" width="106" height="26" rx="4"/><text class="t" x="608" y="2268">5.环境描写方面:</text></g>
<g id="b3-n5a"><rect class="b3" x="328" y="2220" width="251" height="88" rx="5"/><text class="t" x="334" y="2236.8"><tspan x="334">自然环境描写，交代故事发生背景，烘托人物</tspan><tspan x="334" dy="15.6">心情。社会环境描写，交代故事发生的时代，</tspan><tspan x="334" dy="15.6">社会关系特征，人物活动的背景等。《祝福》</tspan><tspan x="334" dy="15.6">《阿Q正传》开头的环境描写，把故事发生的</tspan><tspan x="334" dy="15.6">背景、时代、社会关系作了明确的交代。</tspan></text></g>
<g id="b3-n6"><rect class="b3" x="602" y="2431" width="106" height="26" rx="4"/><text class="t" x="608" y="2448">6.主题内容方面:</text></g>
<g id="b3-n6a"><rect class="b3" x="328" y="2416" width="251" height="57" rx="5"/><text class="t" x="334" y="2432.9"><tspan x="334">小说一般是通过人物形象或故事揭示人生哲理</tspan><tspan x="334" dy="15.6">、社会问题、价值观念等的。主题的表现形式</tspan><tspan x="334" dy="15.6">大致有以下几种:</tspan></text></g>
<g id="b3-n6a1"><rect class="b3" x="52" y="2336" width="252" height="41" rx="5"/><text class="t" x="58" y="2352.7"><tspan x="58">(1)以小说主要人物的性格特点、道德风貌、</tspan><tspan x="58" dy="15.6">品格等揭示人性中的真善美和假丑恶。</tspan></text></g>
<g id="b3-n6a2"><rect class="b3" x="145" y="2405" width="159" height="25" rx="4"/><text class="t" x="151" y="2421.5">(2)用故事的形式针砭时弊。</text></g>
<g id="b3-n6a3"><rect class="b3" x="133" y="2458" width="171" height="26" rx="4"/><text class="t" x="139" y="2475">(3)通过寓言，寄寓人生哲理。</text></g>
<g id="b3-n6a4"><rect class="b3" x="52" y="2511" width="252" height="43" rx="5"/><text class="t" x="58" y="2528.7"><tspan x="58">(4)虚构生活经历，反映人物生存状态和心理</tspan><tspan x="58" dy="15.6">状态。</tspan></text></g>
<g id="b3-n7"><rect class="b3" x="650" y="2610" width="58" height="25" rx="4"/><text class="t" x="656" y="2626.5">7.语言:</text></g>
<g id="b3-n7a"><rect class="b3" x="376" y="2579" width="252" height="89" rx="5"/><text class="t" x="382" y="2596.3"><tspan x="382">小说是语言的艺术，语言是欣赏的媒介，又是</tspan><tspan x="382" dy="15.6">欣赏的对象，出题者有时会让我们欣赏遣词造</tspan><tspan x="382" dy="15.6">句的奇妙，有时会让我们领悟语言的言外之意</tspan><tspan x="382" dy="15.6">，含蓄之美，有时让我们初步感知作家的语言</tspan><tspan x="382" dy="15.6">风格。</tspan></text></g>

<g id="b4"><rect x="1292" y="2783" width="296" height="55" rx="27.5" fill="#8DB5F6"/><text class="t" x="1321" y="2806.5" style="font-size:15.4px"><tspan x="1321">全新的高二语文学习方法推荐相关</tspan><tspan x="1321" dy="21">文章:</tspan></text></g>
<g id="b4-1"><rect class="b4" x="1612" y="2584" width="142" height="26" rx="5"/><text class="st" x="1619" y="2601.3"><tspan style="font-size:10px">★</tspan> 高二语文学习必看方法</text></g>
<g id="b4-2"><rect class="b4" x="1612" y="2638" width="169" height="26" rx="5"/><text class="st" x="1619" y="2655.3"><tspan style="font-size:10px">★</tspan> 高二语文学习方法技巧必看</text></g>
<g id="b4-3"><rect class="b4" x="1612" y="2691" width="157" height="26" rx="5"/><text class="st" x="1619" y="2708.3"><tspan style="font-size:10px">★</tspan> 高二下语文学习方法实用</text></g>
<g id="b4-4"><rect class="b4" x="1612" y="2745" width="193" height="26" rx="5"/><text class="st" x="1619" y="2762.3"><tspan style="font-size:10px">★</tspan> 高二语文学习方法和知识点必看</text></g>
<g id="b4-5"><rect class="b4" x="1612" y="2798" width="206" height="26" rx="5"/><text class="st" x="1619" y="2815.3"><tspan style="font-size:10px">★</tspan> 高中语文的优秀学习方法与小技巧</text></g>
<g id="b4-6"><rect class="b4" x="1612" y="2852" width="193" height="26" rx="5"/><text class="st" x="1619" y="2869.3"><tspan style="font-size:10px">★</tspan> 高二语文备课教案推荐模板五篇</text></g>
<g id="b4-7"><rect class="b4" x="1612" y="2905" width="169" height="26" rx="5"/><text class="st" x="1619" y="2922.3"><tspan style="font-size:10px">★</tspan> 高二语文课文讲解教案五篇</text></g>
<g id="b4-8"><rect class="b4" x="1612" y="2959" width="218" height="26" rx="5"/><text class="st" x="1619" y="2976.3"><tspan style="font-size:10px">★</tspan> 人教版最新的高二语文教案指导五篇</text></g>
<g id="b4-9"><rect class="b4" x="1612" y="3012" width="206" height="26" rx="5"/><text class="st" x="1619" y="3029.3"><tspan style="font-size:10px">★</tspan> 浅谈优秀的高中语文教学方法模板</text></g>

<g id="watermarks">
<text class="wm" transform="translate(345,690) rotate(-30)"><tspan font-family="Noto Sans CJK SC">树图 </tspan><tspan font-family="Liberation Serif">shutu.cn</tspan></text>
<text class="wm" transform="translate(1640,700) rotate(-30)"><tspan font-family="Noto Sans CJK SC">树图 </tspan><tspan font-family="Liberation Serif">shutu.cn</tspan></text>
<text class="wm" transform="translate(350,1680) rotate(-30)"><tspan font-family="Noto Sans CJK SC">树图 </tspan><tspan font-family="Liberation Serif">shutu.cn</tspan></text>
<text class="wm" transform="translate(1640,1700) rotate(-30)"><tspan font-family="Noto Sans CJK SC">树图 </tspan><tspan font-family="Liberation Serif">shutu.cn</tspan></text>
<text class="wm" transform="translate(345,2700) rotate(-30)"><tspan font-family="Noto Sans CJK SC">树图 </tspan><tspan font-family="Liberation Serif">shutu.cn</tspan></text>
<text class="wm" transform="translate(1640,2690) rotate(-30)"><tspan font-family="Noto Sans CJK SC">树图 </tspan><tspan font-family="Liberation Serif">shutu.cn</tspan></text>
</g>
</svg>
